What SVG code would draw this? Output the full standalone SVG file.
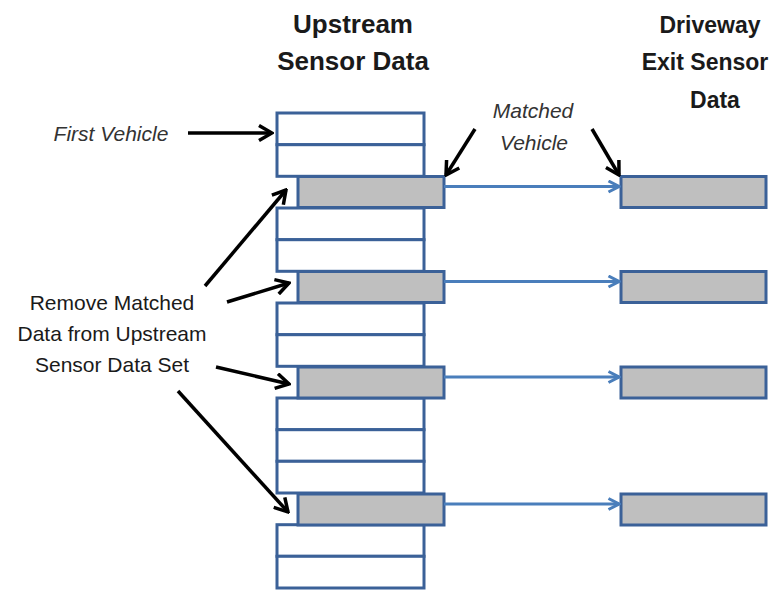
<svg xmlns="http://www.w3.org/2000/svg" width="771" height="590" viewBox="0 0 771 590">
<style>
.h{font-family:"Liberation Sans",Arial,sans-serif;font-weight:bold;font-size:26px;fill:#1a1a1a;text-anchor:middle}
.hr{font-family:"Liberation Sans",Arial,sans-serif;font-weight:bold;font-size:23px;fill:#1a1a1a;text-anchor:middle}
.it{font-family:"Liberation Sans",Arial,sans-serif;font-style:italic;font-size:21px;fill:#333;text-anchor:middle}
.lb{font-family:"Liberation Sans",Arial,sans-serif;font-size:21px;fill:#1a1a1a;text-anchor:middle}
.w{fill:#fff;stroke:#3b6198;stroke-width:3}
.g{fill:#bfbfbf;stroke:#3b6198;stroke-width:3}
.ba{fill:none;stroke:#4a7ebb;stroke-width:3;marker-end:url(#bh)}
.ka{fill:none;stroke:#000;stroke-width:3.5;marker-end:url(#kh)}
</style>
<defs>
<marker id="bh" viewBox="0 0 14 14" refX="12.5" refY="7" markerWidth="14" markerHeight="14" markerUnits="userSpaceOnUse" orient="auto">
<path d="M2,1.5 L12.5,7 L2,12.5" fill="none" stroke="#4a7ebb" stroke-width="3"/>
</marker>
<marker id="kh" viewBox="0 0 18 18" refX="16" refY="9" markerWidth="18" markerHeight="18" markerUnits="userSpaceOnUse" orient="auto">
<path d="M3,1.5 L16,9 L3,16.5" fill="none" stroke="#000" stroke-width="3.5"/>
</marker>
</defs>
<rect width="771" height="590" fill="#fff"/>
<g id="titles">
<text class="h" x="353" y="33">Upstream</text>
<text class="h" x="353" y="70">Sensor Data</text>
<text class="hr" x="710" y="33">Driveway</text>
<text class="hr" x="705" y="70">Exit Sensor</text>
<text class="hr" x="715" y="108">Data</text>
</g>
<g id="upstream">
<rect class="w" x="277" y="113" width="147" height="31.7"/>
<rect class="w" x="277" y="144.7" width="147" height="31.6"/>
<rect class="w" x="277" y="208" width="147" height="31.7"/>
<rect class="w" x="277" y="239.7" width="147" height="31.6"/>
<rect class="w" x="277" y="303" width="147" height="31.7"/>
<rect class="w" x="277" y="334.7" width="147" height="31.6"/>
<rect class="w" x="277" y="398" width="147" height="31.7"/>
<rect class="w" x="277" y="429.7" width="147" height="31.6"/>
<rect class="w" x="277" y="461.3" width="147" height="31.7"/>
<rect class="w" x="277" y="524.7" width="147" height="31.6"/>
<rect class="w" x="277" y="556.3" width="147" height="31.7"/>
</g>
<g id="matched-upstream">
<rect class="g" x="298" y="176.5" width="146" height="31"/>
<rect class="g" x="298" y="271.5" width="146" height="31"/>
<rect class="g" x="298" y="367" width="146" height="31"/>
<rect class="g" x="298" y="494" width="146" height="31"/>
</g>
<g id="driveway">
<rect class="g" x="621" y="176.5" width="145" height="31"/>
<rect class="g" x="621" y="271.5" width="145" height="31"/>
<rect class="g" x="621" y="367" width="145" height="31"/>
<rect class="g" x="621" y="494" width="145" height="31"/>
</g>
<g id="labels">
<text class="it" x="111" y="141">First Vehicle</text>
<text class="it" x="533" y="118">Matched</text>
<text class="it" x="534" y="150">Vehicle</text>
<text class="lb" x="112" y="310">Remove Matched</text>
<text class="lb" x="112" y="341">Data from Upstream</text>
<text class="lb" x="112" y="372">Sensor Data Set</text>
</g>
<g id="connectors">
<line class="ba" x1="444" y1="186.5" x2="619" y2="186.5"/>
<line class="ba" x1="444" y1="281.5" x2="619" y2="281.5"/>
<line class="ba" x1="444" y1="377" x2="619" y2="377"/>
<line class="ba" x1="444" y1="504" x2="619" y2="504"/>
<line class="ka" x1="188" y1="133" x2="272" y2="133"/>
<line class="ka" x1="475" y1="129" x2="446" y2="175"/>
<line class="ka" x1="592" y1="129" x2="619" y2="175"/>
<line class="ka" x1="205" y1="286" x2="286" y2="190"/>
<line class="ka" x1="227" y1="302" x2="289" y2="283"/>
<line class="ka" x1="216" y1="367" x2="289" y2="384"/>
<line class="ka" x1="178" y1="391" x2="288" y2="512"/>
</g>
</svg>
